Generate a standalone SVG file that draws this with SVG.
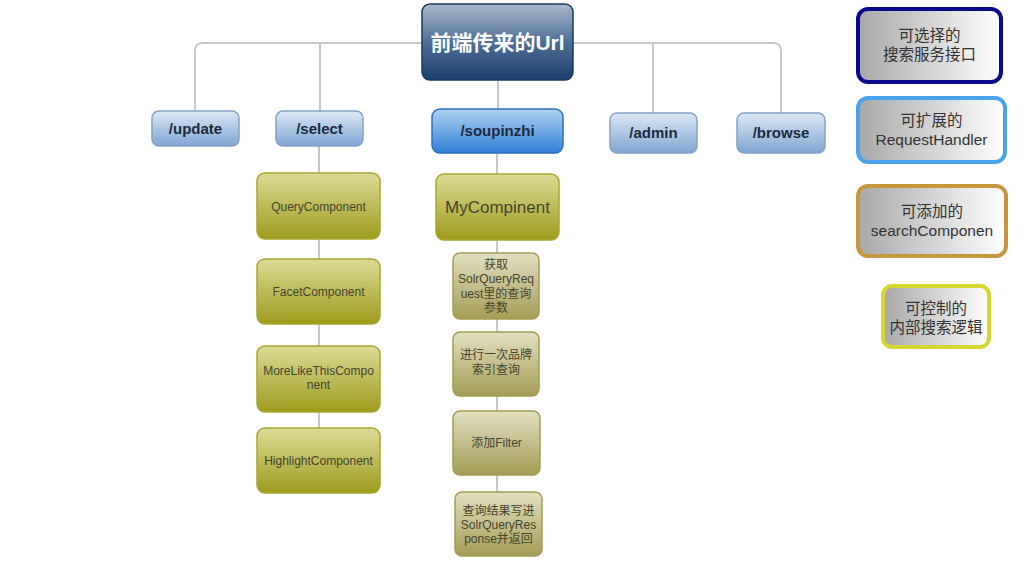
<svg xmlns="http://www.w3.org/2000/svg" width="1024" height="574" viewBox="0 0 1024 574">
<defs>
<linearGradient id="gRoot" x1="0" y1="0" x2="0" y2="1"><stop offset="0" stop-color="#aab9cd"/><stop offset="0.5" stop-color="#4f6e96"/><stop offset="1" stop-color="#1b406c"/></linearGradient>
<linearGradient id="gPath" x1="0" y1="0" x2="0" y2="1"><stop offset="0" stop-color="#dde8f5"/><stop offset="1" stop-color="#7ea6d2"/></linearGradient>
<linearGradient id="gSoup" x1="0" y1="0" x2="0" y2="1"><stop offset="0" stop-color="#b0d2f2"/><stop offset="1" stop-color="#2f7fd6"/></linearGradient>
<linearGradient id="gOlive" x1="0" y1="0" x2="0" y2="1"><stop offset="0" stop-color="#dcdb96"/><stop offset="1" stop-color="#9d9b1c"/></linearGradient>
<linearGradient id="gOlive2" x1="0" y1="0" x2="0" y2="1"><stop offset="0" stop-color="#e3e0c2"/><stop offset="1" stop-color="#a39c55"/></linearGradient>
<linearGradient id="gLeg" x1="0" y1="0" x2="1" y2="0"><stop offset="0" stop-color="#a8a8a8"/><stop offset="1" stop-color="#ffffff"/></linearGradient>
<style>
.conn{fill:none;stroke:#c8c8c8;stroke-width:2}
.path rect{fill:url(#gPath);stroke:#84a3c6;stroke-width:1.5}
.ptxt{font-family:"Liberation Sans",Arial,sans-serif;font-weight:bold;font-size:15px;fill:#1c2b40;text-anchor:middle}
.ol rect{fill:url(#gOlive);stroke:#a8a730;stroke-width:1.5}
.ol2 rect{fill:url(#gOlive2);stroke:#a49c55;stroke-width:1.5}
.otxt{font-family:"Liberation Sans","Noto Sans CJK SC",sans-serif;font-size:12px;fill:#45452e;text-anchor:middle}
.big{font-size:17px}
.leg rect{fill:url(#gLeg);stroke-width:4}
.ltxt{font-family:"Liberation Sans","Noto Sans CJK SC",sans-serif;font-size:15.5px;fill:#333;text-anchor:middle}
</style>
</defs>
<rect width="1024" height="574" fill="#ffffff"/>
<g id="connectors">
<path class="conn" d="M195 111 V51 Q195 43 203 43 H773 Q781 43 781 51 V113"/>
<path class="conn" d="M320 43 V111"/>
<path class="conn" d="M653 43 V113"/>
<path class="conn" d="M498 80 V109"/>
<path class="conn" d="M319 146 V428"/>
<path class="conn" d="M497 153 V492"/>
</g>
<g id="root">
<rect x="422" y="4" width="151" height="76" rx="8" fill="url(#gRoot)" stroke="#173a62" stroke-width="1.5"/>
<text x="497.5" y="50" font-family="Liberation Sans,'Noto Sans CJK SC',sans-serif" font-weight="bold" font-size="21" fill="#ffffff" text-anchor="middle">前端传来的Url</text>
</g>
<g id="update" class="path"><rect x="152" y="111" width="87" height="35" rx="7"/><text class="ptxt" x="195.5" y="134">/update</text></g>
<g id="select" class="path"><rect x="276" y="111" width="87" height="35" rx="7"/><text class="ptxt" x="319.5" y="134">/select</text></g>
<g id="soupinzhi"><rect x="432" y="109" width="131" height="44" rx="8" fill="url(#gSoup)" stroke="#2d6fc0" stroke-width="1.5"/><text class="ptxt" x="497.5" y="136">/soupinzhi</text></g>
<g id="admin" class="path"><rect x="610" y="113" width="87" height="40" rx="7"/><text class="ptxt" x="653.5" y="138">/admin</text></g>
<g id="browse" class="path"><rect x="737" y="113" width="88" height="40" rx="7"/><text class="ptxt" x="781" y="138">/browse</text></g>
<g id="query" class="ol"><rect x="257" y="173" width="123" height="66" rx="8"/><text class="otxt" x="318.5" y="211">QueryComponent</text></g>
<g id="facet" class="ol"><rect x="257" y="259" width="123" height="65" rx="8"/><text class="otxt" x="318.5" y="296">FacetComponent</text></g>
<g id="morelike" class="ol"><rect x="257" y="346" width="123" height="66" rx="8"/><text class="otxt" x="318.5" y="375">MoreLikeThisCompo</text><text class="otxt" x="318.5" y="389">nent</text></g>
<g id="highlight" class="ol"><rect x="257" y="428" width="123" height="65" rx="8"/><text class="otxt" x="318.5" y="465">HighlightComponent</text></g>
<g id="mycomp" class="ol"><rect x="436" y="174" width="123" height="66" rx="8"/><text class="otxt big" x="497.5" y="213">MyCompinent</text></g>
<g id="step1" class="ol2"><rect x="453" y="253" width="86" height="66" rx="7"/><text class="otxt" x="496" y="269">获取</text><text class="otxt" x="496" y="283">SolrQueryReq</text><text class="otxt" x="496" y="298">uest里的查询</text><text class="otxt" x="496" y="312">参数</text></g>
<g id="step2" class="ol2"><rect x="453" y="332" width="86" height="64" rx="7"/><text class="otxt" x="496" y="359">进行一次品牌</text><text class="otxt" x="496" y="374">索引查询</text></g>
<g id="step3" class="ol2"><rect x="453" y="411" width="87" height="64" rx="7"/><text class="otxt" x="496.5" y="447">添加Filter</text></g>
<g id="step4" class="ol2"><rect x="455" y="492" width="87" height="64" rx="7"/><text class="otxt" x="498.5" y="515">查询结果写进</text><text class="otxt" x="498.5" y="529">SolrQueryRes</text><text class="otxt" x="498.5" y="543">ponse并返回</text></g>
<g id="legend1" class="leg"><rect x="858" y="9" width="143" height="73" rx="10" stroke="#0a0a8a"/><text class="ltxt" x="929.5" y="41">可选择的</text><text class="ltxt" x="929.5" y="60">搜索服务接口</text></g>
<g id="legend2" class="leg"><rect x="858" y="98" width="147" height="64" rx="10" stroke="#4aa3ea"/><text class="ltxt" x="931.5" y="126">可扩展的</text><text class="ltxt" x="931.5" y="145">RequestHandler</text></g>
<g id="legend3" class="leg"><rect x="858" y="186" width="148" height="70" rx="10" stroke="#c8963e"/><text class="ltxt" x="932" y="217">可添加的</text><text class="ltxt" x="932" y="236">searchComponen</text></g>
<g id="legend4" class="leg"><rect x="883" y="286" width="106" height="61" rx="9" stroke="#d6d630"/><text class="ltxt" x="936" y="314">可控制的</text><text class="ltxt" x="936" y="333">内部搜索逻辑</text></g>
</svg>
